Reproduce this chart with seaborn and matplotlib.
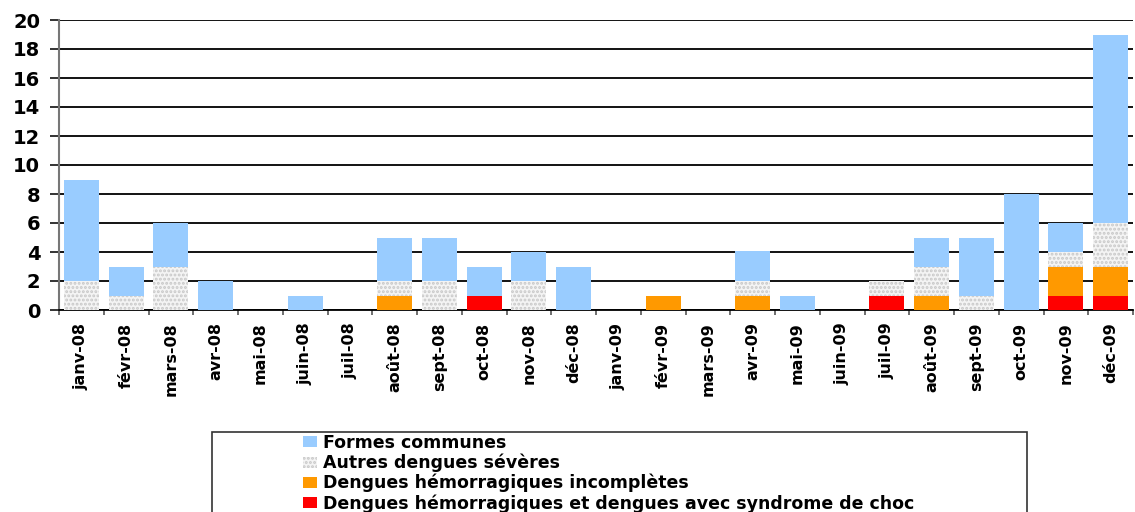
import matplotlib
matplotlib.use("Agg")
import matplotlib.pyplot as plt
from matplotlib.patches import Rectangle, Patch
import seaborn as sns
import numpy as np
import pandas as pd

months = ["janv-08", "févr-08", "mars-08", "avr-08", "mai-08", "juin-08", "juil-08",
          "août-08", "sept-08", "oct-08", "nov-08", "déc-08",
          "janv-09", "févr-09", "mars-09", "avr-09", "mai-09", "juin-09", "juil-09",
          "août-09", "sept-09", "oct-09", "nov-09", "déc-09"]
choc = [0, 0, 0, 0, 0, 0, 0, 0, 0, 1, 0, 0,
        0, 0, 0, 0, 0, 0, 1, 0, 0, 0, 1, 1]
incompletes = [0, 0, 0, 0, 0, 0, 0, 1, 0, 0, 0, 0,
               0, 1, 0, 1, 0, 0, 0, 1, 0, 0, 2, 2]
autres = [2, 1, 3, 0, 0, 0, 0, 1, 2, 0, 2, 0,
          0, 0, 0, 1, 0, 0, 1, 2, 1, 0, 1, 3]
communes = [7, 2, 3, 2, 0, 1, 0, 3, 3, 2, 2, 3,
            0, 0, 0, 2.1, 1, 0, 0, 2, 4, 8, 2, 13]

labels = ["Formes communes", "Autres dengues sévères",
          "Dengues hémorragiques incomplètes",
          "Dengues hémorragiques et dengues avec syndrome de choc"]

sns.set_theme(style="white")
plt.rcParams["font.family"] = ["DejaVu Sans"]
plt.rcParams["font.weight"] = "bold"
plt.rcParams["text.color"] = "black"
plt.rcParams["xtick.color"] = "black"
plt.rcParams["ytick.color"] = "black"
plt.rcParams["hatch.linewidth"] = 1.4

c1 = np.array(choc, dtype=float)
c2 = c1 + np.array(incompletes, dtype=float)
c3 = c2 + np.array(autres, dtype=float)
c4 = c3 + np.array(communes, dtype=float)

df = pd.DataFrame({"mois": months, "c1": c1, "c2": c2, "c3": c3, "c4": c4})

fig = plt.figure(figsize=(11.35, 5.12), dpi=100)
ax = fig.add_axes([59 / 1135, 1 - 310 / 512, (1133 - 59) / 1135, 290 / 512])

w = 0.78
sns.barplot(data=df, x="mois", y="c4", color="#99CCFF", width=w, ax=ax,
            saturation=1, linewidth=0, zorder=3)
sns.barplot(data=df, x="mois", y="c3", color="#F4F4F4", width=w, ax=ax,
            saturation=1, linewidth=0, hatch="....", edgecolor="#C8C8C8", zorder=3)
sns.barplot(data=df, x="mois", y="c2", color="#FF9900", width=w, ax=ax,
            saturation=1, linewidth=0, zorder=3)
sns.barplot(data=df, x="mois", y="c1", color="#FF0000", width=w, ax=ax,
            saturation=1, linewidth=0, zorder=3)

ax.set_xlim(-0.5, len(months) - 0.5)
ax.set_ylim(0, 20)
ax.set_yticks(np.arange(0, 21, 2))
ax.set_yticklabels([str(v) for v in range(0, 21, 2)], fontsize=14, fontweight="bold", color="black")
ax.set_xticks(range(len(months)))
ax.set_xticklabels(months, rotation=90, fontsize=11.5, fontweight="bold", color="black")
ax.set_xticks(np.arange(-0.5, len(months), 1), minor=True)
ax.tick_params(axis="x", which="major", length=0, pad=9)
ax.tick_params(axis="x", which="minor", length=3.5, width=1.2, color="#555555", direction="out", bottom=True)
ax.tick_params(axis="y", which="major", length=6.5, width=1.4, color="#333333", direction="out", left=True, pad=7)
ax.set_xlabel("")
ax.set_ylabel("")
ax.yaxis.grid(True, color="black", linewidth=1.3, zorder=0)
ax.xaxis.grid(False)
ax.set_axisbelow(True)
for s in ["top", "right"]:
    ax.spines[s].set_visible(False)
ax.spines["left"].set_color("#777777")
ax.spines["left"].set_linewidth(1.5)
ax.spines["bottom"].set_color("black")
ax.spines["bottom"].set_linewidth(1.3)

# legend frame (cut off by the bottom edge, as in the reference)
fig.patches.append(Rectangle((212 / 1135, -0.1), (1027 - 212) / 1135, (512 - 432) / 512 + 0.1,
                             transform=fig.transFigure, facecolor="white",
                             edgecolor="#333333", linewidth=1.2, zorder=1))
handles = [Patch(facecolor="#99CCFF", edgecolor="none"),
           Patch(facecolor="#F4F4F4", edgecolor="#C8C8C8", hatch="....", linewidth=0),
           Patch(facecolor="#FF9900", edgecolor="none"),
           Patch(facecolor="#FF0000", edgecolor="none")]
fig.legend(handles, labels, loc="upper left", bbox_to_anchor=(303 / 1135, 1 - 434 / 512),
           frameon=False, prop={"weight": "bold", "size": 12.5},
           handlelength=0.8, handleheight=0.6, handletextpad=0.35,
           labelspacing=0.1, borderaxespad=0, borderpad=0)

fig.savefig("out.png", dpi=100)
